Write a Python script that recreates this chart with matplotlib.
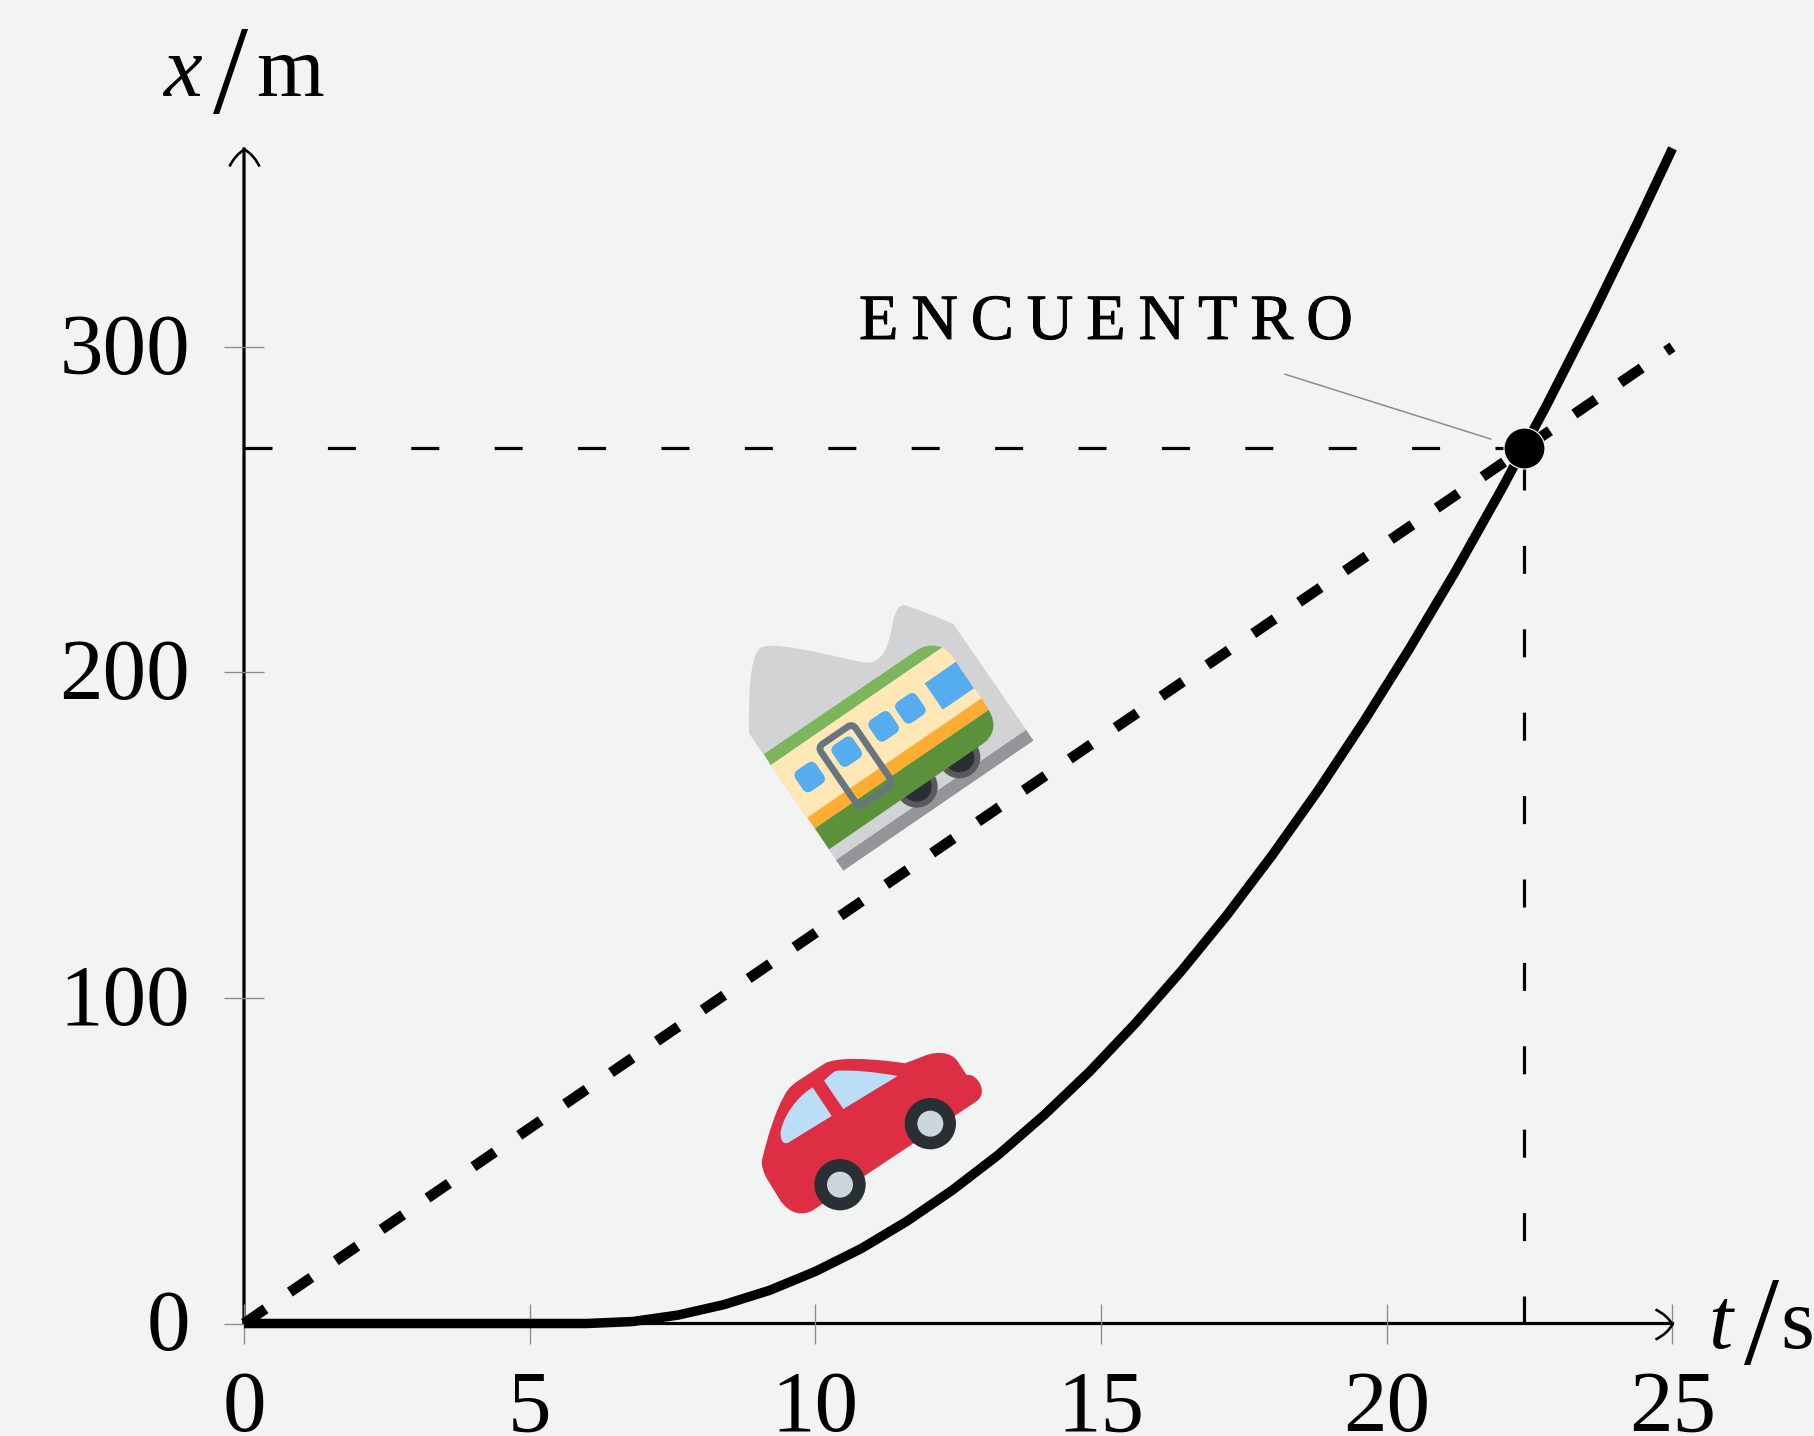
import matplotlib
matplotlib.use('Agg')
import numpy as np
import matplotlib.pyplot as plt
import matplotlib.patheffects as pe
from matplotlib.path import Path
from matplotlib.patches import PathPatch, Circle
from matplotlib.transforms import Affine2D, ScaledTranslation

# car, x in m read at each t
t_car = [0, 6.0, 6.8, 7.6, 8.4, 9.2, 10.0, 10.8, 11.6, 12.4, 13.2, 14.0, 14.8, 15.6, 16.4,
         17.2, 18.0, 18.8, 19.6, 20.4, 21.2, 22.0, 22.8, 23.6, 24.4, 25.0]
x_car = [0, 0, 0.6, 2.6, 5.8, 10.2, 16, 23, 31.4, 41, 51.8, 64, 77.4, 92.2, 108.2,
         125.4, 144, 163.8, 185, 207.4, 231, 256, 282.2, 309.8, 338.6, 361]
# train
t_train = [0, 25]
x_train = [0, 300]
# meeting point
t_meet = 22.4
x_meet = 268.8
# leader line
t_lead = [18.22, 21.82]
x_lead = [291.6, 271.7]

xticks = [0, 5, 10, 15, 20, 25]
yticks = [0, 100, 200, 300]
xmax = 25
ymax = 360.8

W, H = 1815, 1436
BG = '#f2f4f3'
FONT = 'Liberation Serif'
plt.rcParams['font.family'] = FONT


def pt(px):
    return px * 0.72


def parse(s):
    # tiny M/L/C/Z path reader
    verts, codes = [], []
    tok = s.split()
    i = 0
    while i < len(tok):
        c = tok[i]
        i += 1
        if c == 'Z':
            verts.append((0, 0))
            codes.append(Path.CLOSEPOLY)
        elif c == 'C':
            for k in range(3):
                verts.append((float(tok[i]), float(tok[i + 1])))
                codes.append(Path.CURVE4)
                i += 2
        else:
            verts.append((float(tok[i]), float(tok[i + 1])))
            codes.append(Path.MOVETO if c == 'M' else Path.LINETO)
            i += 2
    return Path(verts, codes)


def rrect(cx, cy, w, h, r, ang):
    a = np.radians(ang)
    u = np.array([np.cos(a), np.sin(a)])
    v = np.array([-np.sin(a), np.cos(a)])
    c = np.array([cx, cy])
    corners = [c - u * w / 2 - v * h / 2, c + u * w / 2 - v * h / 2,
               c + u * w / 2 + v * h / 2, c - u * w / 2 + v * h / 2]
    edges = [u, v, -u, -v]
    verts = [corners[0] + u * r]
    codes = [Path.MOVETO]
    for i in range(4):
        p = corners[(i + 1) % 4]
        verts += [p - edges[i] * r, p, p + edges[(i + 1) % 4] * r]
        codes += [Path.LINETO, Path.CURVE3, Path.CURVE3]
    verts.append((0, 0))
    codes.append(Path.CLOSEPOLY)
    return Path(verts, codes)


fig = plt.figure(figsize=(W / 100, H / 100), dpi=100, facecolor=BG)
ax = fig.add_axes([244 / W, (H - 1323.5) / H, 1428.5 / W, 1174.5 / H], facecolor='none')
ax.set_xlim(0, xmax)
ax.set_ylim(0, ymax)
for s in ['top', 'right']:
    ax.spines[s].set_visible(False)
for s in ['left', 'bottom']:
    ax.spines[s].set_linewidth(pt(3.2))
    ax.spines[s].set_zorder(1)
    ax.spines[s].set_snap(False)
ax.set_xticks(xticks)
ax.set_yticks(yticks)
ax.tick_params(axis='both', direction='inout', length=pt(40), width=pt(1.3), color='#8a8a8a',
               labelsize=pt(87), labelcolor='black', zorder=5)
ax.tick_params(axis='x', pad=pt(27))
ax.tick_params(axis='y', pad=pt(34))
for lab in ax.get_yticklabels():
    lab.set_transform(lab.get_transform() + ScaledTranslation(0, 3.5 / 100, fig.dpi_scale_trans))

# dashed guides to the meeting point
ax.plot([0, t_meet], [x_meet, x_meet], color='black', lw=pt(3.2), dashes=(28 / 3.2, 55.4 / 3.2),
        dash_capstyle='butt', zorder=2)
ax.plot([t_meet, t_meet], [0, x_meet], color='black', lw=pt(3.2), dashes=(28 / 3.2, 55.4 / 3.2),
        dash_capstyle='butt', zorder=2)
ax.plot(t_lead, x_lead, color='#8a8a8a', lw=pt(1.5), zorder=2, clip_on=False)

ax.plot(t_car, x_car, color='black', lw=pt(9.5), solid_capstyle='butt', solid_joinstyle='miter',
        zorder=3, clip_on=False)
ax.plot(t_train, x_train, color='black', lw=pt(10.5), dashes=(26 / 10.5, 29.57 / 10.5),
        dash_capstyle='butt', zorder=3, clip_on=False)
ax.plot([t_meet], [x_meet], 'o', color='black', ms=pt(41), mec=BG, mew=pt(1.2), zorder=4, clip_on=False)

# open arrow heads on the axes
head_r = Path([(-17, 15), (-5.5, 9.5), (0, 0), (-5.5, -9.5), (-17, -15)],
              [Path.MOVETO, Path.CURVE3, Path.CURVE3, Path.CURVE3, Path.CURVE3])
head_u = Path([(-15, -17), (-9.5, -5.5), (0, 0), (9.5, -5.5), (15, -17)], head_r.codes)
ax.plot([xmax], [0], marker=head_r, ms=pt(34), mfc='none', mec='black', mew=pt(2.6), clip_on=False, zorder=2)
ax.plot([0], [ymax], marker=head_u, ms=pt(34), mfc='none', mec='black', mew=pt(2.6), clip_on=False, zorder=2)


def label(px, py, s, size, **kw):
    return fig.text(px / W, (H - py) / H, s, fontsize=pt(size), family=FONT, va='baseline', **kw)


label(163, 96, 'x', 87, style='italic')
label(213, 113, '/', 126, style='normal')
label(256, 96, 'm', 87)
label(1708, 1348, 't', 87, style='italic')
label(1744, 1364, '/', 126, style='normal')
label(1780, 1348, 's', 87)
enc = label(859, 339, '\u2009'.join('ENCUENTRO'), 64.5)
enc.set_path_effects([pe.withStroke(linewidth=pt(0.9), foreground='black')])

# car picture, traced from a zoom at 3x
tr_car = Affine2D().scale(1 / 3, -1 / 3).translate(730, H - 1030)


def draw(path, tr, z=6, **kw):
    kw.setdefault('lw', 0)
    fig.add_artist(PathPatch(path, transform=tr, zorder=z, **kw))


draw(parse('M 95 395 C 110 330 135 240 170 185 C 178 172 190 162 205 152 L 285 100 C 320 80 430 85 525 100 L 590 75 '
           'C 620 65 660 65 680 90 L 710 135 C 735 130 760 165 755 190 C 752 205 745 210 735 217 '
           'L 250 540 C 220 558 180 555 150 510 L 110 445 C 100 425 95 410 95 395 Z'), tr_car, fc='#DD2E44')
draw(parse('M 248 172 L 305 258 L 175 338 C 160 345 150 330 152 305 C 160 260 200 200 248 172 Z'), tr_car, fc='#BBDDF5')
draw(parse('M 282 152 L 340 237 L 503 138 C 430 125 370 120 325 122 C 310 122 295 140 282 152 Z'), tr_car, fc='#BBDDF5')
for cx, cy in [(330, 464), (601, 281)]:
    fig.add_artist(Circle((cx, cy), 77, fc='#292F33', lw=0, transform=tr_car, zorder=6))
    fig.add_artist(Circle((cx, cy), 39, fc='#CCD6DD', lw=0, transform=tr_car, zorder=6))

# train picture
tr_train = Affine2D().scale(1 / 3, -1 / 3).translate(720, H - 580)
draw(parse('M 87 460 C 85 350 90 225 120 205 C 150 180 300 220 420 245 C 500 265 510 170 520 120 '
           'C 530 80 545 70 560 78 C 600 90 660 115 700 132 L 940 480 L 370 872 Z'), tr_train, fc='#D1D3D4')
draw(parse('M 918 450 L 940 482 L 370 872 L 348 840 Z'), tr_train, fc='#939598')
for cx, cy in [(590, 620), (718, 532)]:
    fig.add_artist(Circle((cx, cy), 63, fc='#58595B', lw=0, transform=tr_train, zorder=6))
    fig.add_artist(Circle((cx, cy), 45, fc='#292F33', lw=0, transform=tr_train, zorder=6))
draw(parse('M 152 555 L 666 202 C 680 208 695 225 708 245 L 785 355 L 262 713 Z'), tr_train, fc='#FFE8B6')
draw(parse('M 132 522 L 595 208 C 620 193 645 195 666 202 L 152 555 Z'), tr_train, fc='#7CB55B')
draw(parse('M 262 713 L 785 355 L 806 390 L 285 745 Z'), tr_train, fc='#FFAC33')
draw(parse('M 285 745 L 806 390 C 830 430 825 470 780 497 L 327 808 Z'), tr_train, fc='#5C913B')
draw(parse('M 708 245 L 762 325 L 668 389 L 614 310 Z'), tr_train, fc='#55ACEE')
for cx, cy in [(269, 591), (380, 515), (491, 439), (571, 385)]:
    draw(rrect(cx, cy, 76, 76, 20, -34.4), tr_train, fc='#55ACEE')
draw(rrect(407, 556, 126, 218, 18, -34.4), tr_train, fc='none', ec='#66757F', lw=pt(6.7))

fig.savefig('out.png', dpi=100, facecolor=BG)
